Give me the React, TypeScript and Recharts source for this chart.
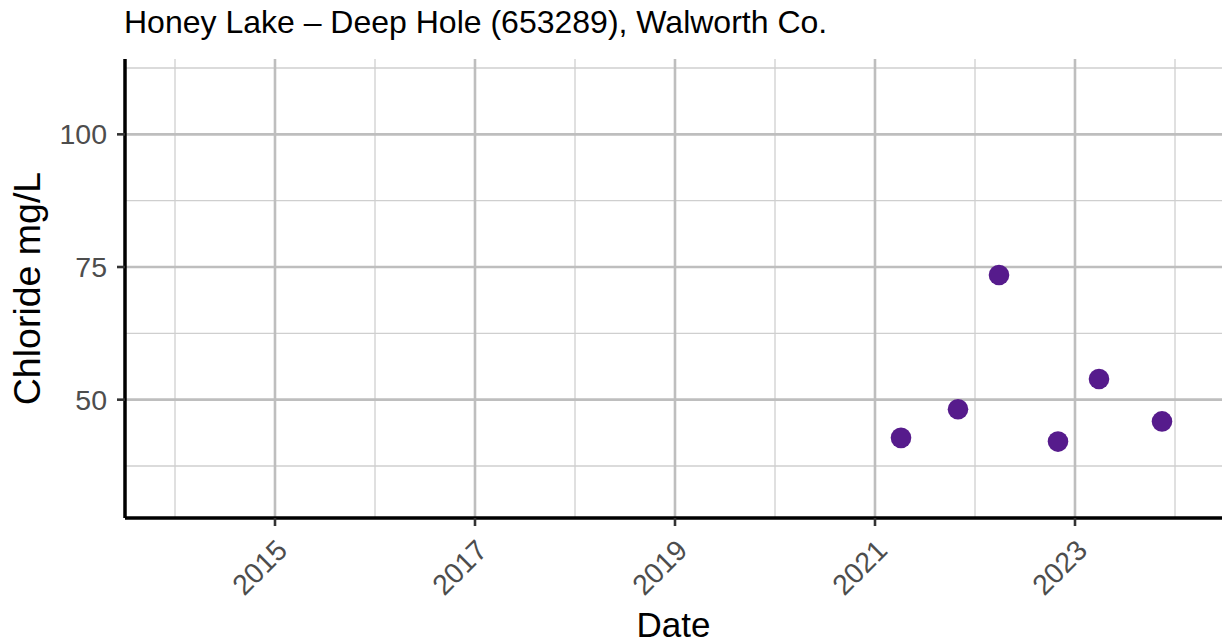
import {
  ScatterChart,
  Scatter,
  XAxis,
  YAxis,
  ReferenceLine,
} from 'recharts';

// decimal year of each sample, and the chloride reading
const sampleYears = [2021.26, 2021.83, 2022.24, 2022.83, 2023.24, 2023.87];
const chloride = [42.8, 48.2, 73.5, 42.1, 53.9, 45.9];

const yearTicks = [2015, 2017, 2019, 2021, 2023];
const yearMinor = [2014, 2016, 2018, 2020, 2022, 2024];
const valueTicks = [50, 75, 100];
const valueMinor = [37.5, 62.5, 87.5, 112.5];

const FONT = '"Liberation Sans", Arial, sans-serif';
const POINT = '#561b8c';

const points = sampleYears.map((year, i) => ({ year, value: chloride[i] }));

function XTick(props: any) {
  const { x, y, payload } = props;
  return (
    <text
      transform={`translate(${x + 14},${y + 24}) rotate(-45)`}
      textAnchor="end"
      fontSize={28.5}
      fontFamily={FONT}
      fill="#4d4d4d"
    >
      {payload.value}
    </text>
  );
}

function YTick(props: any) {
  const { x, y, payload } = props;
  return (
    <text
      x={x - 8}
      y={y}
      dy={10}
      textAnchor="end"
      fontSize={28.5}
      fontFamily={FONT}
      fill="#4d4d4d"
    >
      {payload.value}
    </text>
  );
}

function Dot(props: any) {
  return <circle cx={props.cx} cy={props.cy} r={10.3} fill={POINT} />;
}

export default function App() {
  return (
    <div style={{ position: 'absolute', left: 0, top: 0, width: 1223, height: 644 }}>
      <ScatterChart
        width={1223}
        height={644}
        margin={{ top: 59, right: 1, left: 0, bottom: 0 }}
      >
        {yearMinor.map((v) => (
          <ReferenceLine key={'xm' + v} x={v} stroke="#cfcfcf" strokeWidth={1.3} />
        ))}
        {valueMinor.map((v) => (
          <ReferenceLine key={'ym' + v} y={v} stroke="#cfcfcf" strokeWidth={1.3} />
        ))}
        {yearTicks.map((v) => (
          <ReferenceLine key={'x' + v} x={v} stroke="#bebebe" strokeWidth={2.6} />
        ))}
        {valueTicks.map((v) => (
          <ReferenceLine key={'y' + v} y={v} stroke="#bebebe" strokeWidth={2.6} />
        ))}
        <XAxis
          type="number"
          dataKey="year"
          domain={[2013.5, 2024.47]}
          ticks={yearTicks}
          allowDataOverflow
          height={126}
          tickSize={8}
          tickMargin={2}
          tick={<XTick />}
          axisLine={{ stroke: '#000', strokeWidth: 3.5 }}
          tickLine={{ stroke: '#333', strokeWidth: 2.6 }}
          label={{
            value: 'Date',
            content: (p: any) => (
              <text
                x={p.viewBox.x + p.viewBox.width / 2}
                y={637}
                textAnchor="middle"
                fontSize={35}
                fontFamily={FONT}
                fill="#000"
              >
                Date
              </text>
            ),
          }}
        />
        <YAxis
          type="number"
          dataKey="value"
          domain={[27.7, 114.2]}
          ticks={valueTicks}
          allowDataOverflow
          width={125}
          tickSize={8}
          tickMargin={2}
          tick={<YTick />}
          axisLine={{ stroke: '#000', strokeWidth: 3.5 }}
          tickLine={{ stroke: '#333', strokeWidth: 2.6 }}
          label={{
            value: 'Chloride mg/L',
            content: (p: any) => {
              const cy = p.viewBox.y + p.viewBox.height / 2;
              return (
                <text
                  transform={`translate(40,${cy}) rotate(-90)`}
                  textAnchor="middle"
                  fontSize={37.5}
                  fontFamily={FONT}
                  fill="#000"
                >
                  Chloride mg/L
                </text>
              );
            },
          }}
        />
        <Scatter data={points} shape={<Dot />} isAnimationActive={false} />
      </ScatterChart>
      <svg
        width={1223}
        height={50}
        style={{ position: 'absolute', left: 0, top: 0, pointerEvents: 'none' }}
      >
        <text x={124} y={33} fontSize={32} fontFamily={FONT} fill="#000">
          Honey Lake – Deep Hole (653289), Walworth Co.
        </text>
      </svg>
    </div>
  );
}
